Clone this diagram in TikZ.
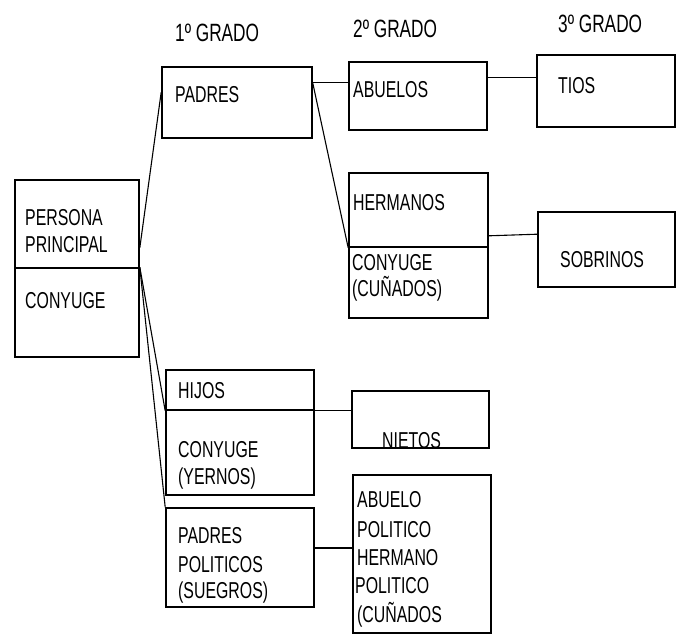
\documentclass[tikz,border=0pt]{standalone}
\usepackage{fontspec}
\setmainfont[FakeStretch=0.69]{Liberation Sans}
\usetikzlibrary{calc}
\begin{document}
\begin{tikzpicture}[x=1pt,y=-1pt,
  box/.style={draw,line width=1.6pt,inner sep=0pt,rectangle},
  link/.style={draw,line width=1.1pt},
  txt/.style={anchor=base west,inner sep=0pt,font=\fontsize{23}{27}\selectfont},
  head/.style={anchor=base west,inner sep=0pt,font=\fontsize{25}{29}\selectfont}]
\useasboundingbox (0,0) rectangle (683,635);
% boxes
\node[box,minimum width=124,minimum height=88] (persona) at (77,224) {};
\node[box,minimum width=124,minimum height=89] (conyuge0) at (77,312.5) {};
\node[box,minimum width=150,minimum height=71] (padres) at (237,102.5) {};
\node[box,minimum width=138,minimum height=68] (abuelos) at (418,96) {};
\node[box,minimum width=138,minimum height=72] (tios) at (606,91) {};
\node[box,minimum width=139,minimum height=74] (hermanos) at (418.5,210) {};
\node[box,minimum width=139,minimum height=71] (conyugec) at (418.5,282.5) {};
\node[box,minimum width=137,minimum height=75] (sobrinos) at (606.5,249.5) {};
\node[box,minimum width=148,minimum height=40] (hijos) at (240,390) {};
\node[box,minimum width=148,minimum height=85] (conyugey) at (240,452.5) {};
\node[box,minimum width=148,minimum height=99] (suegros) at (240,557.5) {};
\node[box,minimum width=137,minimum height=57] (nietos) at (420.5,419.5) {};
\node[box,minimum width=138,minimum height=158] (politico) at (422,554) {};
% connectors
\draw[link] ($(persona.south east)+(0,-21)$) -- ($(padres.north west)+(0,26)$);
\draw[link] (conyuge0.north east) -- (hijos.south west);
\draw[link] (conyuge0.north east) -- (suegros.north west);
\draw[link] ($(padres.north east)+(0,16)$) -- ($(abuelos.north west)+(0,21)$);
\draw[link] ($(padres.north east)+(0,17)$) -- (hermanos.south west);
\draw[link] ($(abuelos.north east)+(0,16)$) -- ($(tios.north west)+(0,23)$);
\draw[link] ($(hermanos.south east)+(0,-12)$) -- ($(sobrinos.north west)+(0,23)$);
\draw[link] (hijos.south east) -- (hijos.south east -| nietos.west);
\draw[link] ($(suegros.east)+(0,-9.5)$) -- ($(politico.west)+(0,-6)$);
% headers
\node[head] (g1) at (175,41) {1º GRADO};
\node[head] (g2) at (353,37) {2º GRADO};
\node[head] (g3) at (558,32) {3º GRADO};
% texts
\node[txt] (tpadres) at (175,102) {PADRES};
\node[txt] (tpersona) at (25,225) {PERSONA};
\node[txt] (tprincipal) at (25,252) {PRINCIPAL};
\node[txt] (tconyuge0) at (25,308) {CONYUGE};
\node[txt] (tabuelos) at (353,97) {ABUELOS};
\node[txt] (ttios) at (558,93) {TIOS};
\node[txt] (thermanos) at (353,210) {HERMANOS};
\node[txt] (tconyugec) at (352,270) {CONYUGE};
\node[txt] (tcunados) at (352,296) {(CUÑADOS)};
\node[txt] (tsobrinos) at (560,267) {SOBRINOS};
\node[txt] (thijos) at (178,398) {HIJOS};
\node[txt] (tconyugey) at (178,457) {CONYUGE};
\node[txt] (tyernos) at (178,484) {(YERNOS)};
\node[txt] (tpadres2) at (178,543) {PADRES};
\node[txt] (tpoliticos) at (178,572) {POLITICOS};
\node[txt] (tsuegros) at (178,598) {(SUEGROS)};
\node[txt] (tnietos) at (382,448) {NIETOS};
\node[txt] (tabuelo) at (357,507) {ABUELO};
\node[txt] (tpol1) at (357,537) {POLITICO};
\node[txt] (thermano) at (357,565) {HERMANO};
\node[txt] (tpol2) at (355,593) {POLITICO};
\node[txt] (tcunados2) at (357,622) {(CUÑADOS};
\end{tikzpicture}
\end{document}
